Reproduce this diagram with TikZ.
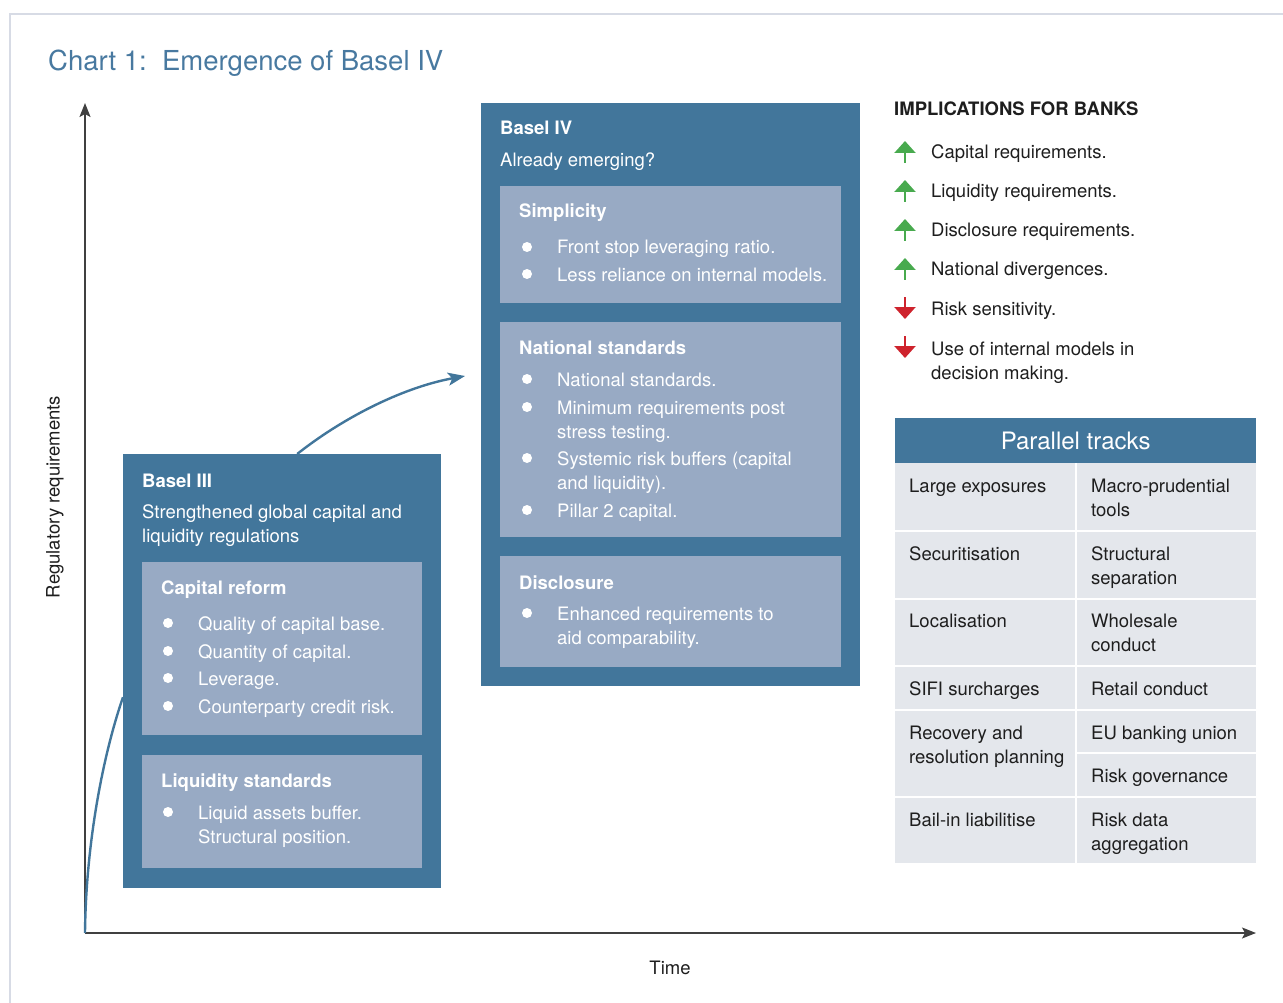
\documentclass[tikz,border=0pt]{standalone}
\usepackage{fontspec}
\setmainfont{TeX Gyre Heros}
\usetikzlibrary{arrows.meta}
\definecolor{bsblue}{RGB}{66,118,155}
\definecolor{bslight}{RGB}{152,170,196}
\definecolor{cellgray}{RGB}{228,231,236}
\definecolor{titleblue}{RGB}{72,121,160}
\definecolor{upgreen}{RGB}{72,170,78}
\definecolor{downred}{RGB}{206,35,45}
\definecolor{framegray}{RGB}{215,219,229}
\definecolor{ink}{RGB}{30,30,30}

\begin{document}
\begin{tikzpicture}[x=1pt,y=-1pt,
  font=\fontsize{18.5}{24}\selectfont,
  outerbox/.style={fill=bsblue,anchor=north west,inner sep=0pt},
  innerbox/.style={fill=bslight,anchor=north west,inner sep=0pt},
  boxhead/.style={anchor=base west,inner sep=0pt,text=white,font=\fontsize{18.5}{24}\selectfont\bfseries},
  txt/.style={anchor=base west,inner sep=0pt,text=white,align=left},
  bul/.style={circle,fill=white,inner sep=0pt,minimum size=10pt},
  imp/.style={anchor=base west,inner sep=0pt,text=ink,align=left},
  celltxt/.style={anchor=base west,inner sep=0pt,text=ink,align=left},
  axisline/.style={draw=black!75,line width=1.3pt,-{Stealth[length=14pt,width=11pt,inset=3pt]}},
  flow/.style={draw=bsblue,line width=2.4pt,-{Stealth[length=17pt,width=13pt,inset=4pt]}},
  uparr/.style={draw=upgreen,line width=2.2pt,-{Triangle[length=12pt,width=21pt]}},
  downarr/.style={draw=downred,line width=2.2pt,-{Triangle[length=12pt,width=21pt]}}]
\useasboundingbox (0,0) rectangle (1283,1003);
\draw[framegray,line width=1.5pt] (1283,14) -- (10,14) -- (10,1003);
\node (title) at (48,71) [anchor=base west,inner sep=0pt,text=titleblue,font=\fontsize{27.5}{30}\selectfont] {Chart 1:\ \ Emergence of Basel IV};

\coordinate (o) at (85,933);
\coordinate (ytop) at (85,103);
\coordinate (xend) at (1256,933);
\coordinate (tip) at (465,376);
\draw[axisline] (o) -- (ytop);
\draw[axisline] (o) -- (xend);
\node (ylab) at (55,497) [rotate=90,text=ink] {Regulatory requirements};
\node (tlab) at (670,968) [text=ink] {Time};

\node (b3) at (123,454) [outerbox,minimum width=318pt,minimum height=434pt] {};
\node (cr) at (142,562) [innerbox,minimum width=280pt,minimum height=173pt] {};
\node (ls) at (142,755) [innerbox,minimum width=280pt,minimum height=113pt] {};
\node (b4) at (481,103) [outerbox,minimum width=379pt,minimum height=583pt] {};
\node (si) at (500,186) [innerbox,minimum width=341pt,minimum height=117pt] {};
\node (ns) at (500,322) [innerbox,minimum width=341pt,minimum height=215pt] {};
\node (di) at (500,556) [innerbox,minimum width=341pt,minimum height=111pt] {};

\draw[bsblue,line width=2.4pt] (o) .. controls (86,840) and (104,752) .. ([yshift=-26pt]b3.west);
\draw[flow] ([xshift=15pt]b3.north) .. controls (340,420) and (400,388) .. (tip);

\node (b3h) at (142,487) [boxhead] {Basel III};
\node (b3t) at (142,542) [txt] {Strengthened global capital and\\liquidity regulations};
\node (crh) at (161,594) [boxhead] {Capital reform};
\node (cr1d) at (168,623) [bul] {};
\node (cr1) at (198,630) [txt] {Quality of capital base.};
\node (cr2d) at (168,651) [bul] {};
\node (cr2) at (198,658) [txt] {Quantity of capital.};
\node (cr3d) at (168,678) [bul] {};
\node (cr3) at (198,685) [txt] {Leverage.};
\node (cr4d) at (168,706) [bul] {};
\node (cr4) at (198,713) [txt] {Counterparty credit risk.};
\node (lsh) at (161,787) [boxhead] {Liquidity standards};
\node (ls1d) at (168,812) [bul] {};
\node (ls1) at (198,843) [txt] {Liquid assets buffer.\\Structural position.};

\node (b4h) at (500,135) [boxhead] {Basel IV};
\node (b4t) at (500,167) [txt] {Already emerging?};
\node (sih) at (519,218) [boxhead] {Simplicity};
\node (si1d) at (527,247) [bul] {};
\node (si1) at (557,254) [txt] {Front stop leveraging ratio.};
\node (si2d) at (527,274) [bul] {};
\node (si2) at (557,281) [txt] {Less reliance on internal models.};
\node (nsh) at (519,354) [boxhead] {National standards};
\node (ns1d) at (527,379) [bul] {};
\node (ns1) at (557,386) [txt] {National standards.};
\node (ns2d) at (527,407) [bul] {};
\node (ns2) at (557,438) [txt] {Minimum requirements post\\stress testing.};
\node (ns3d) at (527,458) [bul] {};
\node (ns3) at (557,489) [txt] {Systemic risk buffers (capital\\and liquidity).};
\node (ns4d) at (527,510) [bul] {};
\node (ns4) at (557,517) [txt] {Pillar 2 capital.};
\node (dih) at (519,589) [boxhead] {Disclosure};
\node (di1d) at (527,613) [bul] {};
\node (di1) at (557,644) [txt] {Enhanced requirements to\\aid comparability.};

\node (ih) at (894,116) [imp,font=\fontsize{18.5}{24}\selectfont\bfseries] {IMPLICATIONS FOR BANKS};
\draw[uparr] (905,163) -- (905,141);
\node (i1) at (931,159) [imp] {Capital requirements.};
\draw[uparr] (905,202) -- (905,180);
\node (i2) at (931,198) [imp] {Liquidity requirements.};
\draw[uparr] (905,241) -- (905,219);
\node (i3) at (931,237) [imp] {Disclosure requirements.};
\draw[uparr] (905,280) -- (905,258);
\node (i4) at (931,276) [imp] {National divergences.};
\draw[downarr] (905,297) -- (905,319);
\node (i5) at (931,316) [imp] {Risk sensitivity.};
\draw[downarr] (905,336) -- (905,358);
\node (i6) at (931,379) [imp] {Use of internal models in\\decision making.};

\node (pt) at (895,418) [outerbox,minimum width=361pt,minimum height=45pt] {};
\node (pth) at (pt.center) [text=white,font=\fontsize{24}{28}\selectfont] {Parallel tracks};
\fill[cellgray] (895,463) rectangle (1256,863);
\draw[white,line width=2pt] (1076,463) -- (1076,863);
\draw[white,line width=2pt] (895,531) -- (1256,531);
\draw[white,line width=2pt] (895,599) -- (1256,599);
\draw[white,line width=2pt] (895,666) -- (1256,666);
\draw[white,line width=2pt] (895,710) -- (1256,710);
\draw[white,line width=2pt] (1076,753) -- (1256,753);
\draw[white,line width=2pt] (895,797) -- (1256,797);
\node (t1l) at (909,492) [celltxt] {Large exposures};
\node (t1r) at (1091,516) [celltxt] {Macro-prudential\\tools};
\node (t2l) at (909,560) [celltxt] {Securitisation};
\node (t2r) at (1091,584) [celltxt] {Structural\\separation};
\node (t3l) at (909,627) [celltxt] {Localisation};
\node (t3r) at (1091,651) [celltxt] {Wholesale\\conduct};
\node (t4l) at (909,695) [celltxt] {SIFI surcharges};
\node (t4r) at (1091,695) [celltxt] {Retail conduct};
\node (t5l) at (909,763) [celltxt] {Recovery and\\resolution planning};
\node (t5r) at (1091,739) [celltxt] {EU banking union};
\node (t5s) at (1091,782) [celltxt] {Risk governance};
\node (t6l) at (909,826) [celltxt] {Bail-in liabilitise};
\node (t6r) at (1091,850) [celltxt] {Risk data\\aggregation};
\end{tikzpicture}
\end{document}
